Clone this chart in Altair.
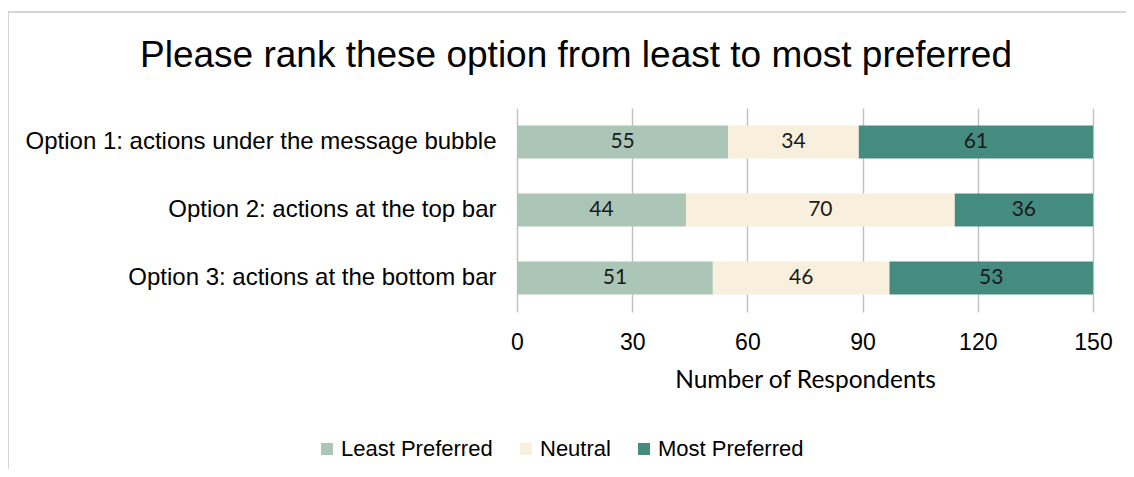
import altair as alt
import pandas as pd

title_text = "Please rank these option from least to most preferred"
options = [
    "Option 1: actions under the message bubble",
    "Option 2: actions at the top bar",
    "Option 3: actions at the bottom bar",
]
categories = ["Least Preferred", "Neutral", "Most Preferred"]
least = [55, 44, 51]
neutral = [34, 70, 46]
most = [61, 36, 53]
colors = ["#ABC6B7", "#F8EFDD", "#458B80"]
ticks = [0, 30, 60, 90, 120, 150]

rows = []
for i, opt in enumerate(options):
    for k, (cat, vals) in enumerate(zip(categories, [least, neutral, most])):
        rows.append({"option": opt, "category": cat, "value": vals[i], "order": k})
df = pd.DataFrame(rows)

PL, PT = 509, 100
W, H = 576, 204

base = alt.Chart(df)

bars = base.mark_bar().encode(
    y=alt.Y("option:N", sort=options,
            scale=alt.Scale(paddingInner=0.515, paddingOuter=0.2575),
            axis=alt.Axis(title=None, labelFontSize=24, labelFont="Liberation Sans",
                          labelColor="#000000", labelPadding=21, ticks=False,
                          domain=False, labelLimit=700)),
    x=alt.X("value:Q", stack="zero",
            scale=alt.Scale(domain=[0, 150], nice=False),
            axis=alt.Axis(values=ticks, title="Number of Respondents",
                          titleFont="Lato", titleFontSize=24.5, titleFontWeight="normal",
                          titleColor="#000000", titlePadding=14,
                          labelFont="Liberation Sans", labelFontSize=23,
                          labelColor="#000000", labelPadding=19, labelFlush=False,
                          ticks=False, domain=False, grid=True,
                          gridColor="#BFBFBF", gridWidth=1.4)),
    color=alt.Color("category:N", sort=categories,
                    scale=alt.Scale(domain=categories, range=colors),
                    legend=alt.Legend(title=None, orient="none", direction="horizontal",
                                      legendX=-201, legendY=330,
                                      symbolType="square", symbolSize=144,
                                      symbolStrokeWidth=0,
                                      labelFont="Liberation Sans", labelFontSize=22,
                                      labelColor="#000000", labelOffset=3,
                                      columnPadding=22)),
    order=alt.Order("order:Q"),
)

labels = base.transform_stack(
    stack="value", groupby=["option"], sort=[alt.SortField("order")], as_=["x0", "x1"]
).transform_calculate(
    mid="(datum.x0 + datum.x1) / 2"
).mark_text(font="Lato", fontSize=21, color="#1a1a1a").encode(
    y=alt.Y("option:N", sort=options),
    x=alt.X("mid:Q"),
    text=alt.Text("value:Q"),
)

border = alt.Chart(pd.DataFrame({"k": [0]})).mark_rect(
    fill=None, stroke="#C8C8C8", strokeWidth=1.5, clip=False
).encode(
    x=alt.value(-509), x2=alt.value(700), y=alt.value(-96), y2=alt.value(500)
)

title = alt.Chart(pd.DataFrame({"t": [title_text]})).mark_text(
    font="Liberation Sans", fontSize=37, color="#000000",
    align="center", baseline="alphabetic", clip=False
).encode(
    x=alt.value(59), y=alt.value(-41), text="t:N"
)

chart = alt.layer(border, title, bars, labels).properties(
    width=W, height=H,
    padding={"left": PL, "top": PT, "right": 33, "bottom": 157},
    autosize=alt.AutoSizeParams(type="none"),
).configure_view(stroke=None)

chart.save("out.html", embed_options={"renderer": "svg", "actions": False})
